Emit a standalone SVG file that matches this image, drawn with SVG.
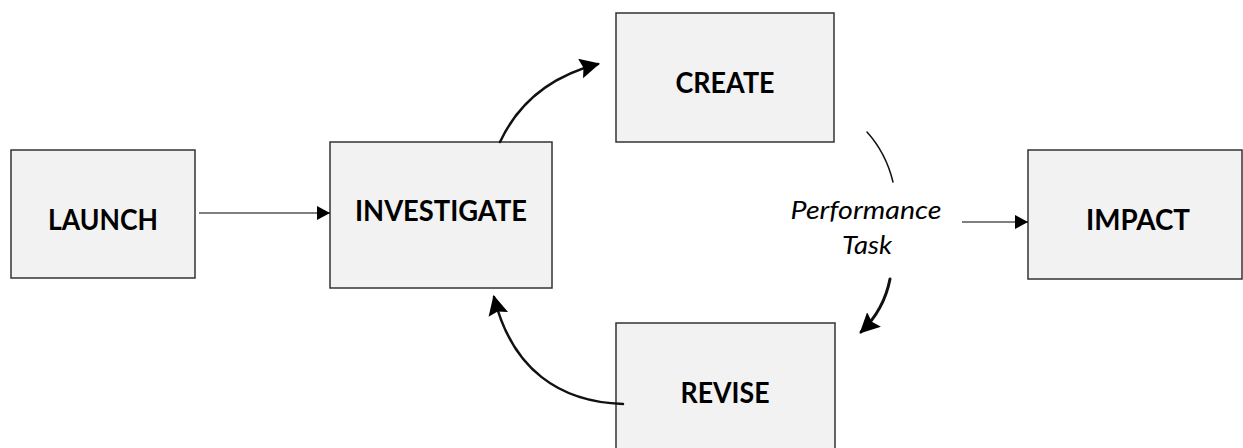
<svg xmlns="http://www.w3.org/2000/svg" width="1243" height="448" viewBox="0 0 1243 448">
  <style>
    .box { fill: #f2f2f2; stroke: #333333; stroke-width: 1.5; }
    .label { font-family: Lato, "Open Sans", "Liberation Sans", sans-serif; font-weight: bold; font-size: 28px; fill: #000000; text-anchor: middle; }
    .note { font-family: Lato, "Open Sans", "Liberation Sans", sans-serif; font-style: italic; font-size: 25px; fill: #000000; text-anchor: middle; }
    .line { fill: none; stroke: #000000; stroke-width: 1.2; }
    .curve { fill: none; stroke: #111111; stroke-width: 2.5; stroke-linecap: round; }
  </style>
  <defs>
    <marker id="head-small" markerUnits="userSpaceOnUse" markerWidth="14" markerHeight="14" refX="13" refY="7" orient="auto">
      <path d="M0,0 L13,7 L0,14 z" fill="#000000"/>
    </marker>
    <marker id="head-big" markerUnits="userSpaceOnUse" markerWidth="22" markerHeight="22" refX="18" refY="10" orient="auto">
      <path d="M0,0 L20,10 L0,20 L3,10 z" fill="#000000"/>
    </marker>
  </defs>

  <g id="launch">
    <rect class="box" x="11" y="150" width="184" height="128"/>
    <text class="label" x="103" y="230" textLength="110" lengthAdjust="spacingAndGlyphs">LAUNCH</text>
  </g>
  <g id="investigate">
    <rect class="box" x="330" y="142" width="222" height="146"/>
    <text class="label" x="441" y="221" textLength="172" lengthAdjust="spacingAndGlyphs">INVESTIGATE</text>
  </g>
  <g id="create">
    <rect class="box" x="616" y="13" width="218" height="129"/>
    <text class="label" x="725" y="93" textLength="99" lengthAdjust="spacingAndGlyphs">CREATE</text>
  </g>
  <g id="revise">
    <rect class="box" x="616" y="323" width="219" height="140"/>
    <text class="label" x="725" y="403" textLength="89" lengthAdjust="spacingAndGlyphs">REVISE</text>
  </g>
  <g id="impact">
    <rect class="box" x="1028" y="150" width="214" height="129"/>
    <text class="label" x="1138" y="230" textLength="104" lengthAdjust="spacingAndGlyphs">IMPACT</text>
  </g>
  <g id="performance-task">
    <text class="note" x="866" y="219" textLength="151" lengthAdjust="spacingAndGlyphs">Performance</text>
    <text class="note" x="867" y="254" textLength="50" lengthAdjust="spacingAndGlyphs">Task</text>
  </g>

  <g id="connectors">
    <line class="line" x1="199" y1="213" x2="330" y2="213" marker-end="url(#head-small)"/>
    <line class="line" x1="962" y1="222" x2="1028" y2="222" marker-end="url(#head-small)"/>
    <path class="curve" d="M500,142 Q528,82 598,64" marker-end="url(#head-big)"/>
    <path class="curve" style="stroke-width:1.5" d="M867,132 Q886,153 893,182"/>
    <path class="curve" style="stroke-width:3" d="M890,279 Q884,310 861,332" marker-end="url(#head-big)"/>
    <path class="curve" d="M623,404 C560,402 512,370 494,297" marker-end="url(#head-big)"/>
  </g>
</svg>
